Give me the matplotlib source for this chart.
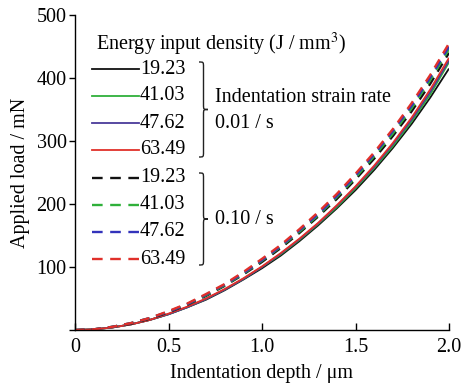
import matplotlib
matplotlib.use("Agg")
import matplotlib.pyplot as plt
from matplotlib.path import Path
from matplotlib.patches import PathPatch
from matplotlib.lines import Line2D

plt.rcParams['font.family'] = ['Liberation Serif', 'DejaVu Serif']
plt.rcParams['mathtext.fontset'] = 'stix'

depth = [0.0, 0.1, 0.2, 0.3, 0.4, 0.5, 0.6, 0.7, 0.8, 0.9, 1.0,
         1.1, 1.2, 1.3, 1.4, 1.5, 1.6, 1.7, 1.8, 1.9, 2.0]

energy_labels = ["19.23", "41.03", "47.62", "63.49"]

# strain rate 0.01 / s (solid)
slow_1923 = [0, 1, 4, 9, 16, 25, 36, 48, 63, 80, 98, 118, 141, 166, 193, 222, 254, 289, 327, 369, 415]
slow_4103 = [0, 1, 4, 9, 16, 25, 36, 49, 64, 81, 100, 120, 143, 168, 195, 225, 257, 292, 331, 374, 425]
slow_4762 = [0, 1, 4, 9, 16, 25, 36, 49, 64, 81, 100, 121, 144, 169, 197, 227, 259, 295, 334, 378, 428]
slow_6349 = [0, 1, 4, 9, 16, 26, 37, 50, 65, 82, 101, 122, 145, 170, 198, 228, 261, 297, 337, 382, 432]

# strain rate 0.10 / s (dashed)
fast_1923 = [0, 1, 5, 10, 18, 28, 40, 54, 70, 88, 108, 130, 154, 180, 208, 239, 272, 308, 347, 391, 440]
fast_4103 = [0, 1, 5, 11, 19, 29, 41, 55, 71, 89, 110, 132, 156, 182, 211, 242, 276, 312, 352, 397, 446]
fast_4762 = [0, 1, 5, 11, 19, 29, 41, 56, 72, 90, 111, 133, 158, 184, 213, 245, 279, 316, 356, 401, 450]
fast_6349 = [0, 1, 5, 11, 19, 30, 42, 57, 73, 92, 113, 135, 160, 187, 216, 248, 282, 319, 360, 405, 455]

x_ticks = [0, 0.5, 1.0, 1.5, 2.0]
x_ticklabels = ["0", "0.5", "1.0", "1.5", "2.0"]
y_ticks = [0, 100, 200, 300, 400, 500]
y_ticklabels = ["", "100", "200", "300", "400", "500"]

colors_solid = ["#111111", "#2fb03a", "#4a3a9a", "#e0302a"]
colors_dash = ["#111111", "#2fb03a", "#3333bb", "#e0302a"]

FS = 14.5
W, H = 463, 385
fig = plt.figure(figsize=(W / 100, H / 100), dpi=100)
ax = fig.add_axes([75 / W, 1 - 330 / H, (449 - 75) / W, (330 - 15) / H])

slow = [slow_1923, slow_4103, slow_4762, slow_6349]
fast = [fast_1923, fast_4103, fast_4762, fast_6349]
for ys, c in zip(slow, colors_solid):
    ax.plot(depth, ys, color=c, lw=1.3, solid_capstyle='butt')
for ys, c in zip(fast, colors_dash):
    ax.plot(depth, ys, color=c, lw=1.7, ls=(0, (4, 3)))

ax.set_xlim(0, 2.0)
ax.set_ylim(0, 500)
ax.set_xticks(x_ticks)
ax.set_xticklabels(x_ticklabels)
ax.set_yticks(y_ticks)
ax.set_yticklabels(y_ticklabels)
for s in ['top', 'right']:
    ax.spines[s].set_visible(False)
for s in ['left', 'bottom']:
    ax.spines[s].set_linewidth(1.0)
ax.tick_params(axis='x', direction='in', length=5, width=1.0, labelsize=FS, pad=6)
ax.tick_params(axis='y', direction='out', length=4, width=1.0, labelsize=FS, pad=2)
ax.set_xlabel("Indentation depth / μm", fontsize=FS, labelpad=5)
ax.set_ylabel("Applied load / mN", fontsize=FS, labelpad=5)

# custom legend in pixel coordinates
def P(px, py):
    return (px / W, 1 - py / H)

ftr = fig.transFigure
fig.text(*P(96, 44), "Energy input density (J / mm$^3$)", fontsize=FS, va='center', ha='left')
rows_solid = [69, 96, 123, 150]
rows_dash = [178, 205, 232, 259]
for lab, c, yy in zip(energy_labels, colors_solid, rows_solid):
    x0, y0 = P(92, yy)
    x1, _ = P(139, yy)
    fig.add_artist(Line2D([x0, x1], [y0, y0], color=c, lw=1.3, transform=ftr))
    fig.text(*P(140, yy), lab, fontsize=FS, va='center', ha='left')
for lab, c, yy in zip(energy_labels, colors_dash, rows_dash):
    x0, y0 = P(92, yy)
    x1, _ = P(139, yy)
    fig.add_artist(Line2D([x0, x1], [y0, y0], color=c, lw=1.7, ls=(0, (4.5, 3.2)), transform=ftr))
    fig.text(*P(140, yy), lab, fontsize=FS, va='center', ha='left')

def brace(x0, yt, yb, w=9, r=5):
    ym = (yt + yb) / 2
    xm = x0 + w / 2
    pts = [(x0, yt), (xm, yt), (xm, yt), (xm, yt + r),
           (xm, ym - r),
           (xm, ym), (xm, ym), (x0 + w, ym),
           (xm, ym), (xm, ym), (xm, ym + r),
           (xm, yb - r),
           (xm, yb), (xm, yb), (x0, yb)]
    codes = [Path.MOVETO, Path.CURVE4, Path.CURVE4, Path.CURVE4,
             Path.LINETO,
             Path.CURVE4, Path.CURVE4, Path.CURVE4,
             Path.CURVE4, Path.CURVE4, Path.CURVE4,
             Path.LINETO,
             Path.CURVE4, Path.CURVE4, Path.CURVE4]
    verts = [P(px, py) for px, py in pts]
    fig.add_artist(PathPatch(Path(verts, codes), fill=False, lw=1.0,
                             edgecolor='#222222', transform=ftr))

brace(199, 62, 157)
brace(199, 173, 265)
fig.text(*P(215, 97), "Indentation strain rate", fontsize=FS, va='center', ha='left')
fig.text(*P(215, 123), "0.01 / s", fontsize=FS, va='center', ha='left')
fig.text(*P(215, 219), "0.10 / s", fontsize=FS, va='center', ha='left')

fig.savefig("out.png", dpi=100)
